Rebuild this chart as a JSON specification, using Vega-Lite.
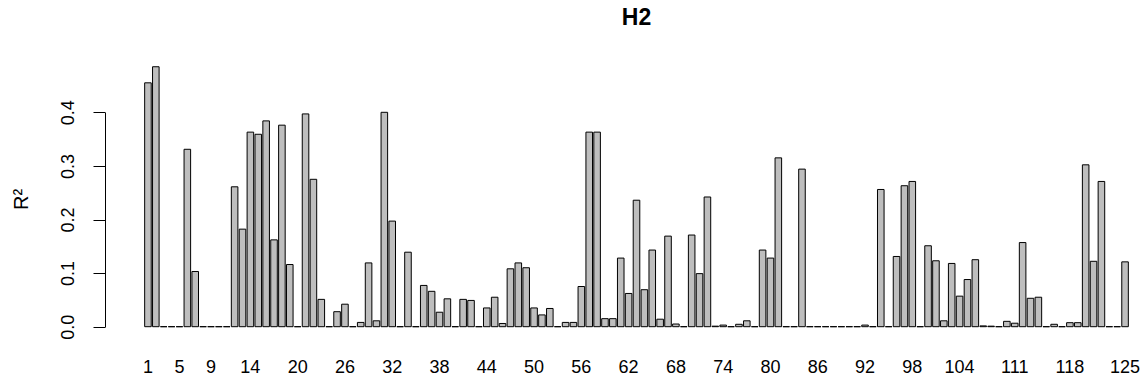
{
  "$schema": "https://vega.github.io/schema/vega-lite/v6.json",
  "autosize": {"type": "none"},
  "padding": {"left": 105, "top": 60, "right": 0, "bottom": 43},
  "width": 1042,
  "height": 280,
  "background": "white",
  "title": {"text": "H2", "font": "Liberation Sans", "fontSize": 23, "fontWeight": "bold", "color": "black", "anchor": "middle", "dx": 10.5, "baseline": "alphabetic", "offset": 12},
  "config": {"view": {"stroke": null}, "font": "Liberation Sans"},
  "data": {"values": [
    {"i": 1, "r2": 0.455}, {"i": 2, "r2": 0.485}, {"i": 3, "r2": 0}, {"i": 4, "r2": 0}, {"i": 5, "r2": 0},
    {"i": 6, "r2": 0.331}, {"i": 7, "r2": 0.103}, {"i": 8, "r2": 0}, {"i": 9, "r2": 0}, {"i": 10, "r2": 0},
    {"i": 11, "r2": 0}, {"i": 12, "r2": 0.261}, {"i": 13, "r2": 0.182}, {"i": 14, "r2": 0.363}, {"i": 15, "r2": 0.359},
    {"i": 16, "r2": 0.384}, {"i": 17, "r2": 0.162}, {"i": 18, "r2": 0.376}, {"i": 19, "r2": 0.116}, {"i": 20, "r2": 0},
    {"i": 21, "r2": 0.397}, {"i": 22, "r2": 0.275}, {"i": 23, "r2": 0.051}, {"i": 24, "r2": 0}, {"i": 25, "r2": 0.028},
    {"i": 26, "r2": 0.042}, {"i": 27, "r2": 0}, {"i": 28, "r2": 0.008}, {"i": 29, "r2": 0.119}, {"i": 30, "r2": 0.011},
    {"i": 31, "r2": 0.4}, {"i": 32, "r2": 0.197}, {"i": 33, "r2": 0}, {"i": 34, "r2": 0.139}, {"i": 35, "r2": 0},
    {"i": 36, "r2": 0.077}, {"i": 37, "r2": 0.066}, {"i": 38, "r2": 0.027}, {"i": 39, "r2": 0.052}, {"i": 40, "r2": 0},
    {"i": 41, "r2": 0.051}, {"i": 42, "r2": 0.049}, {"i": 43, "r2": 0}, {"i": 44, "r2": 0.035}, {"i": 45, "r2": 0.055},
    {"i": 46, "r2": 0.006}, {"i": 47, "r2": 0.108}, {"i": 48, "r2": 0.119}, {"i": 49, "r2": 0.11}, {"i": 50, "r2": 0.035},
    {"i": 51, "r2": 0.022}, {"i": 52, "r2": 0.034}, {"i": 53, "r2": 0}, {"i": 54, "r2": 0.008}, {"i": 55, "r2": 0.008},
    {"i": 56, "r2": 0.075}, {"i": 57, "r2": 0.363}, {"i": 58, "r2": 0.363}, {"i": 59, "r2": 0.015}, {"i": 60, "r2": 0.015},
    {"i": 61, "r2": 0.128}, {"i": 62, "r2": 0.062}, {"i": 63, "r2": 0.236}, {"i": 64, "r2": 0.069}, {"i": 65, "r2": 0.143},
    {"i": 66, "r2": 0.014}, {"i": 67, "r2": 0.169}, {"i": 68, "r2": 0.005}, {"i": 69, "r2": 0}, {"i": 70, "r2": 0.171},
    {"i": 71, "r2": 0.099}, {"i": 72, "r2": 0.242}, {"i": 73, "r2": 0.001}, {"i": 74, "r2": 0.003}, {"i": 75, "r2": 0},
    {"i": 76, "r2": 0.0045}, {"i": 77, "r2": 0.011}, {"i": 78, "r2": 0}, {"i": 79, "r2": 0.143}, {"i": 80, "r2": 0.128},
    {"i": 81, "r2": 0.315}, {"i": 82, "r2": 0}, {"i": 83, "r2": 0}, {"i": 84, "r2": 0.294}, {"i": 85, "r2": 0},
    {"i": 86, "r2": 0}, {"i": 87, "r2": 0}, {"i": 88, "r2": 0}, {"i": 89, "r2": 0}, {"i": 90, "r2": 0},
    {"i": 91, "r2": 0}, {"i": 92, "r2": 0.003}, {"i": 93, "r2": 0}, {"i": 94, "r2": 0.256}, {"i": 95, "r2": 0},
    {"i": 96, "r2": 0.131}, {"i": 97, "r2": 0.263}, {"i": 98, "r2": 0.271}, {"i": 99, "r2": 0}, {"i": 100, "r2": 0.151},
    {"i": 101, "r2": 0.123}, {"i": 102, "r2": 0.011}, {"i": 103, "r2": 0.118}, {"i": 104, "r2": 0.057}, {"i": 105, "r2": 0.088},
    {"i": 106, "r2": 0.125}, {"i": 107, "r2": 0.0015}, {"i": 108, "r2": 0.001}, {"i": 109, "r2": 0}, {"i": 110, "r2": 0.01},
    {"i": 111, "r2": 0.0065}, {"i": 112, "r2": 0.157}, {"i": 113, "r2": 0.053}, {"i": 114, "r2": 0.055}, {"i": 115, "r2": 0},
    {"i": 116, "r2": 0.0045}, {"i": 117, "r2": 0}, {"i": 118, "r2": 0.0075}, {"i": 119, "r2": 0.0075}, {"i": 120, "r2": 0.302},
    {"i": 121, "r2": 0.122}, {"i": 122, "r2": 0.271}, {"i": 123, "r2": 0}, {"i": 124, "r2": 0}, {"i": 125, "r2": 0.121}
  ]},
  "mark": {"type": "bar", "fill": "#BEBEBE", "stroke": "black", "strokeWidth": 1, "clip": false},
  "encoding": {
    "x": {
      "field": "i", "type": "ordinal", "sort": "ascending",
      "scale": {"range": [39, 1024], "paddingInner": 0.1667, "paddingOuter": 0.0833},
      "axis": {
        "title": null, "domain": false, "ticks": false, "labelAngle": 0,
        "values": [1, 5, 9, 14, 20, 26, 32, 38, 44, 50, 56, 62, 68, 74, 80, 86, 92, 98, 104, 111, 118, 125],
        "labelFont": "Liberation Sans", "labelFontSize": 18, "labelColor": "black",
        "labelBaseline": "middle", "labelPadding": 27, "labelOverlap": false
      }
    },
    "y": {
      "field": "r2", "type": "quantitative",
      "scale": {"domain": [0, 0.4], "range": [266.7, 52.3], "nice": false, "zero": true},
      "axis": {
        "title": "R²", "titleFont": "Liberation Sans", "titleFontSize": 20, "titleFontWeight": "normal", "titleColor": "black",
        "titleX": -84, "titleY": 139, "titleAngle": -90, "titleAlign": "center", "titleBaseline": "middle",
        "values": [0, 0.1, 0.2, 0.3, 0.4], "format": ".1f", "grid": false,
        "domainColor": "black", "domainWidth": 1, "tickColor": "black", "tickWidth": 1, "tickSize": 12,
        "labelAngle": -90, "labelAlign": "center", "labelBaseline": "bottom", "labelPadding": 16,
        "labelFont": "Liberation Sans", "labelFontSize": 18, "labelColor": "black"
      }
    }
  }
}
